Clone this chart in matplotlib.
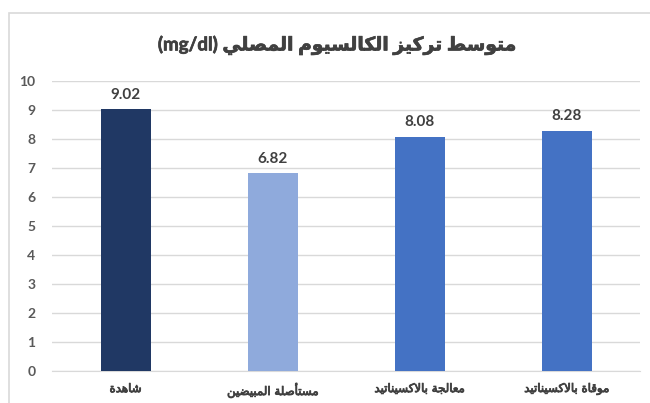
import re
import unicodedata
import matplotlib
matplotlib.use('Agg')
import matplotlib.pyplot as plt
import matplotlib.patheffects as pe
from matplotlib.patches import Rectangle

title = 'متوسط تركيز الكالسيوم المصلي (mg/dl)'
groups = ['شاهدة', 'مستأصلة المبيضين', 'معالجة بالاكسيناتيد', 'موقاة بالاكسيناتيد']
means = [9.02, 6.82, 8.08, 8.28]
colors = ['#203864', '#8FAADC', '#4472C4', '#4472C4']
yticks = [0, 1, 2, 3, 4, 5, 6, 7, 8, 9, 10]


def _form(ch, form):
    try:
        return unicodedata.lookup(unicodedata.name(ch) + ' ' + form + ' FORM')
    except (KeyError, ValueError):
        return None


def shape(text):
    # join arabic letters into contextual forms (lam-alef as ligature)
    toks = []
    i = 0
    while i < len(text):
        ch = text[i]
        if ch == 'ل' and i + 1 < len(text) and unicodedata.name(text[i + 1], '').startswith('ARABIC LETTER ALEF'):
            alef = unicodedata.name(text[i + 1]).replace('ARABIC LETTER ', '')
            base = 'ARABIC LIGATURE LAM WITH ' + alef
            toks.append(('R', unicodedata.lookup(base + ' ISOLATED FORM'),
                         {'FINAL': unicodedata.lookup(base + ' FINAL FORM')}))
            i += 2
            continue
        if _form(ch, 'INITIAL'):
            kind = 'D'
        elif _form(ch, 'FINAL'):
            kind = 'R'
        else:
            kind = 'U'
        forms = {f: _form(ch, f) for f in ('INITIAL', 'MEDIAL', 'FINAL', 'ISOLATED')}
        toks.append((kind, ch, forms))
        i += 1
    out = []
    for j, (kind, ch, forms) in enumerate(toks):
        prev_ok = j > 0 and toks[j - 1][0] == 'D' and kind in 'DR'
        next_ok = kind == 'D' and j + 1 < len(toks) and toks[j + 1][0] in 'DR'
        if prev_ok and next_ok:
            f = 'MEDIAL'
        elif prev_ok:
            f = 'FINAL'
        elif next_ok:
            f = 'INITIAL'
        else:
            f = 'ISOLATED'
        out.append(forms.get(f) or (forms.get('ISOLATED') if kind != 'U' and forms.get('ISOLATED') else ch))
    return ''.join(out)


def rtl(text):
    vis = shape(text)[::-1]
    # latin runs keep their own order
    return re.sub(r'[A-Za-z0-9()/.]+', lambda m: m.group(0)[::-1], vis)


fig = plt.figure(figsize=(6.5, 4.03), dpi=100)
# chart frame, right and bottom edges fall outside the image
fig.patches.append(Rectangle((9 / 650, -0.05), 1.2, 1 - 13 / 403 + 0.05, transform=fig.transFigure,
                             fill=False, edgecolor='#D9D9D9', linewidth=1.2))
ax = fig.add_axes([0.08, 0.0794, 0.905, 0.72])

x = range(len(groups))
ax.bar(x, means, width=0.34, color=colors, zorder=3)
for xi, v in zip(x, means):
    ax.text(xi, v + 0.25, f'{v:.2f}', ha='center', va='bottom', fontsize=11,
            fontweight='bold', color='#404040', family=['Lato', 'DejaVu Sans'])

ax.set_xlim(-0.5, len(groups) - 0.5)
ax.set_ylim(0, 10)
ax.set_yticks(yticks)
ax.set_yticklabels([str(t) for t in yticks], fontsize=10, fontweight='bold',
                   color='#595959', family=['Lato', 'DejaVu Sans'])
ax.set_xticks(list(x))
ax.set_xticklabels([rtl(g) for g in groups], fontsize=8.5,
                   color='#404040', family=['DejaVu Sans'])
for lbl in ax.get_xticklabels():
    lbl.set_path_effects([pe.withStroke(linewidth=0.6, foreground='#404040')])
ax.tick_params(length=0, pad=8)
ax.tick_params(axis='y', pad=12)
ax.grid(axis='y', color='#D9D9D9', linewidth=1, zorder=0)
for side in ('top', 'right', 'left'):
    ax.spines[side].set_visible(False)
ax.spines['bottom'].set_color('#D9D9D9')

fig.text(0.52, 0.888, rtl(title), ha='center', va='center', fontsize=13.5,
         fontweight='bold', color='#404040', family=['Lato', 'DejaVu Sans'],
         path_effects=[pe.withStroke(linewidth=0.5, foreground='#404040')])

fig.savefig('out.png', dpi=100)
